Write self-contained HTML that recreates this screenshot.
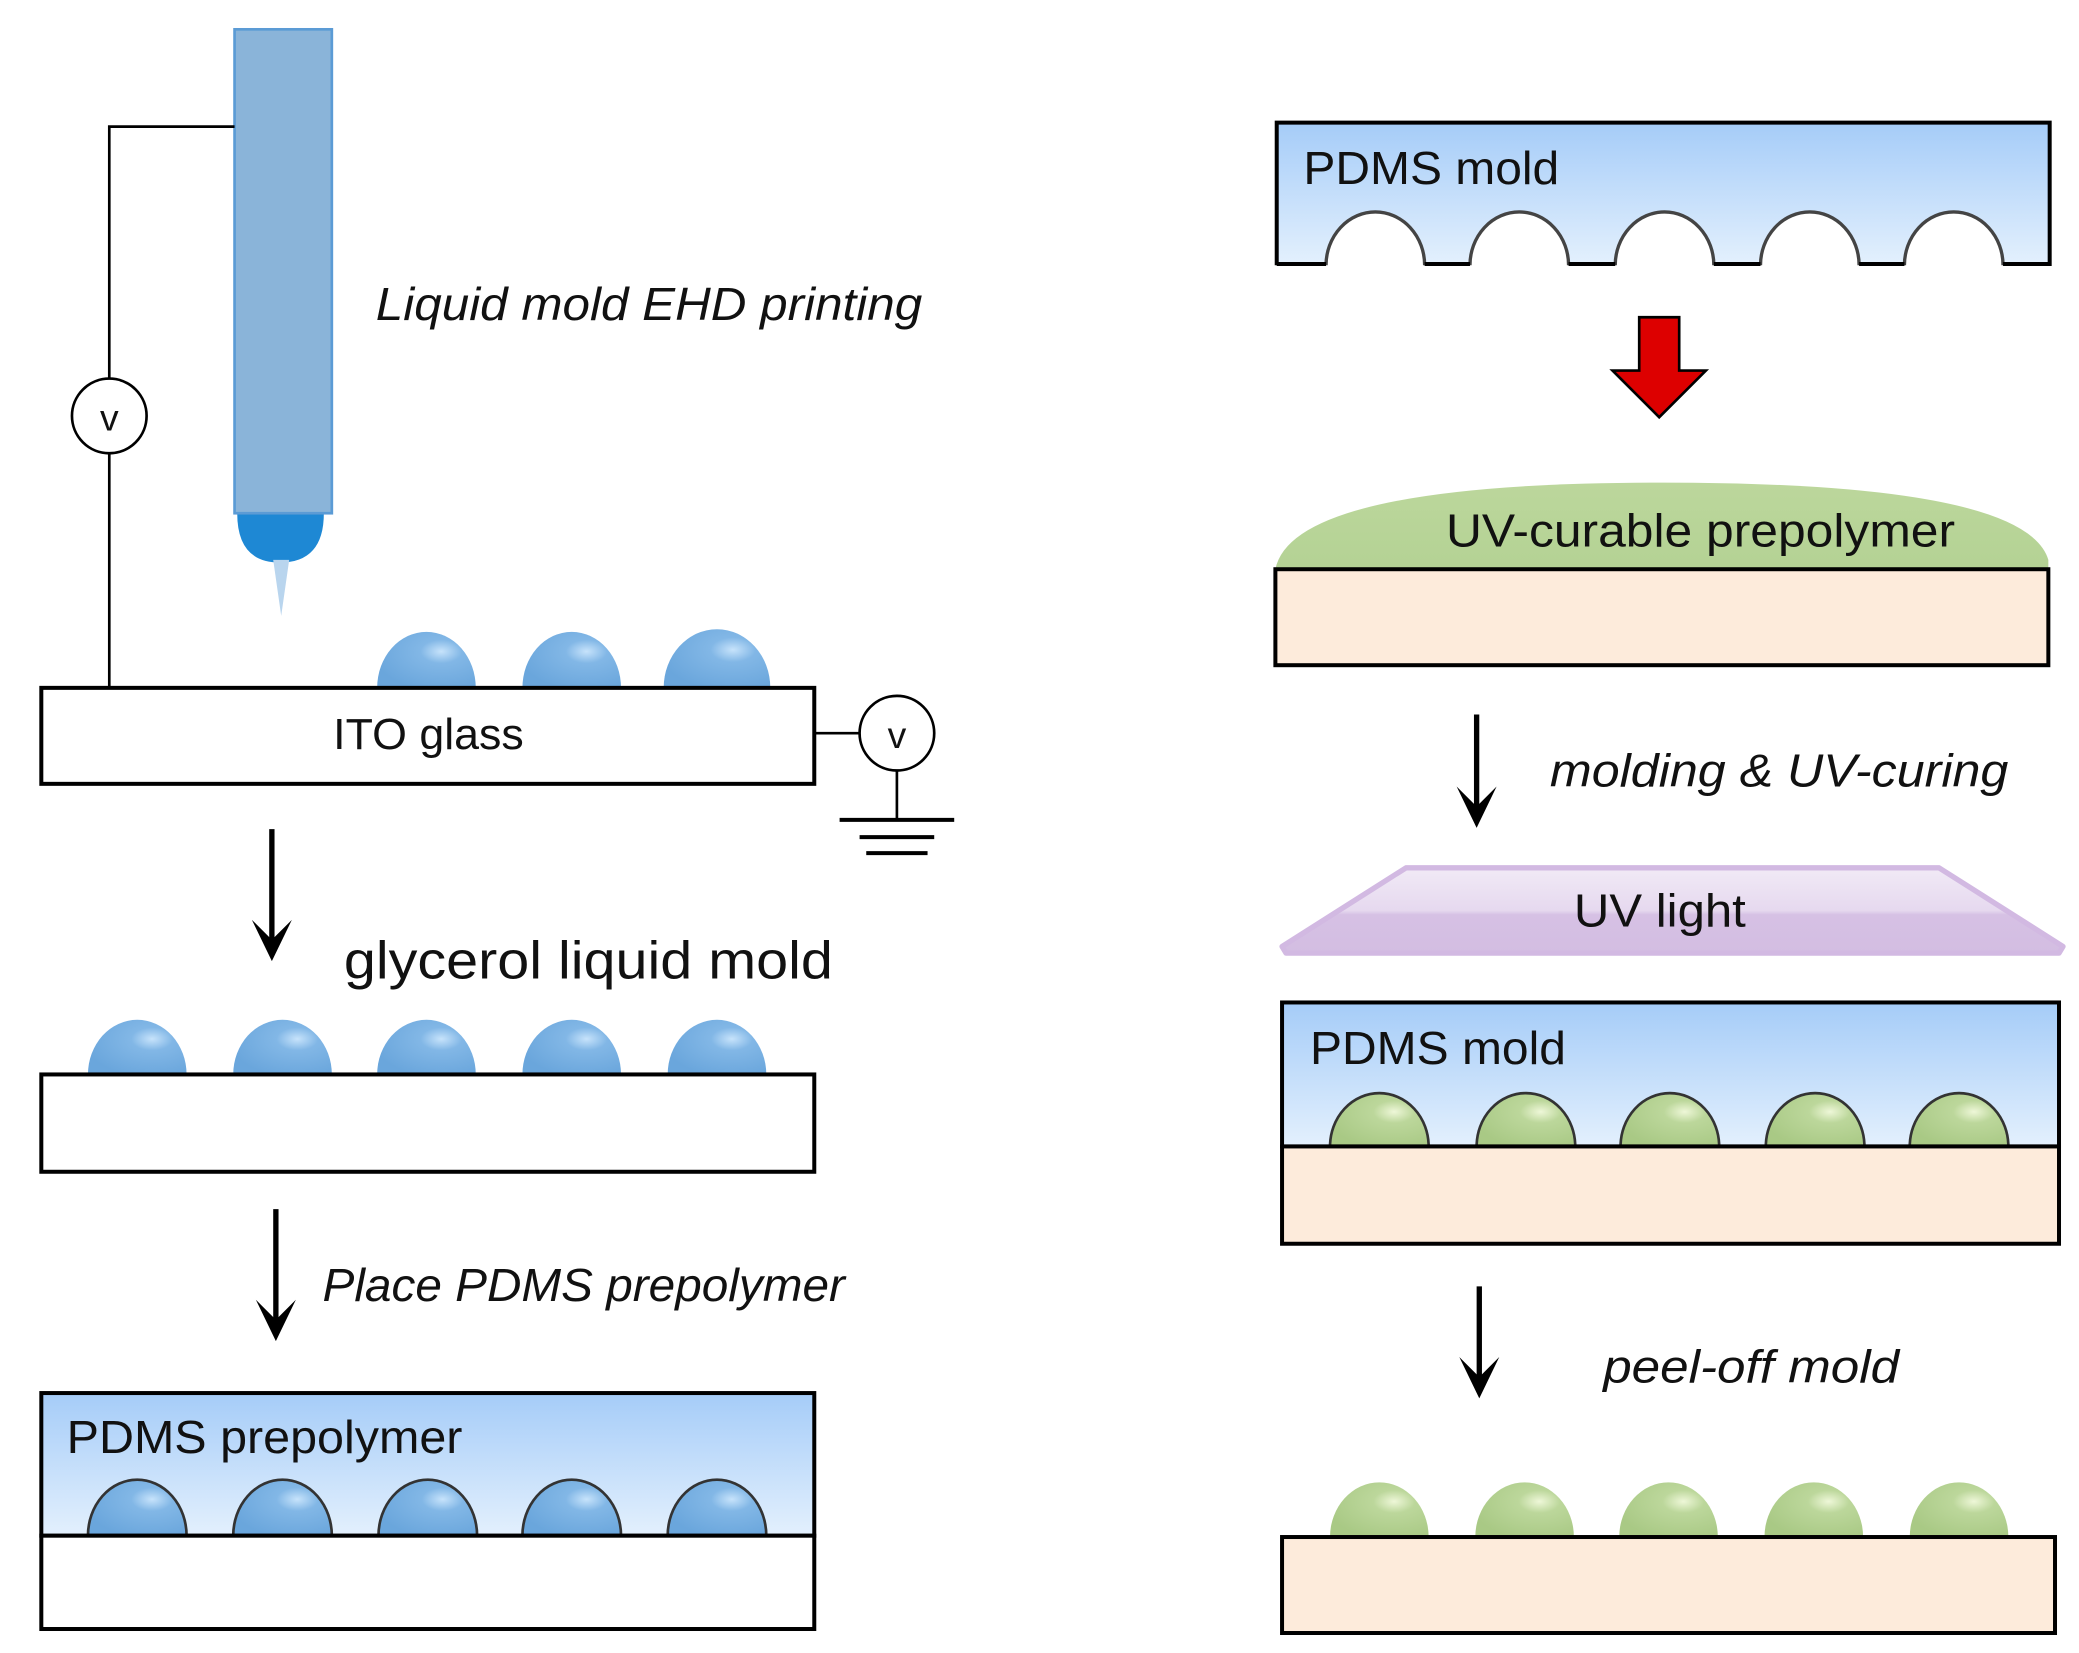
<!DOCTYPE html>
<html><head><meta charset="utf-8"><style>
html,body{margin:0;padding:0;background:#fff;}
svg{display:block;}
text{font-family:"Liberation Sans",sans-serif;fill:#111;}
</style></head><body>
<svg width="2079" height="1653" viewBox="0 0 1560 1240" preserveAspectRatio="none" xmlns="http://www.w3.org/2000/svg">
<defs>
<linearGradient id="bg" x1="0" y1="0" x2="0" y2="1"><stop offset="0" stop-color="#a5ccf8"/><stop offset="1" stop-color="#e3f0fd"/></linearGradient>
<radialGradient id="bd" cx="0.65" cy="0.35" r="0.7"><stop offset="0" stop-color="#c7e3fb"/><stop offset="0.3" stop-color="#82b7e6"/><stop offset="1" stop-color="#6aa6dc"/></radialGradient>
<radialGradient id="gd" cx="0.65" cy="0.35" r="0.7"><stop offset="0" stop-color="#eef7d8"/><stop offset="0.3" stop-color="#bcd79b"/><stop offset="1" stop-color="#a9c985"/></radialGradient>
<linearGradient id="uv" x1="0" y1="0" x2="0" y2="1"><stop offset="0" stop-color="#f1eaf6"/><stop offset="0.5" stop-color="#e6d9ef"/><stop offset="0.55" stop-color="#d6c1e4"/><stop offset="1" stop-color="#d3bde2"/></linearGradient>
<linearGradient id="cap" x1="0" y1="0" x2="0" y2="1"><stop offset="0" stop-color="#bcd79c"/><stop offset="1" stop-color="#b4d294"/></linearGradient>
</defs>

<!-- nozzle -->
<path d="M178 385 Q178 422 210 422 Q243 422 243 385 Z" fill="#1e88d4"/>
<path d="M205 420 L211 462 L217 420 Z" fill="#b9d5ee"/>
<rect x="176" y="22" width="73" height="363" fill="#8ab4d9" stroke="#5b9bd5" stroke-width="2"/>
<polyline points="176,95 82,95 82,515" fill="none" stroke="#000" stroke-width="2"/>
<circle cx="82" cy="312" r="28" fill="#fff" stroke="#000" stroke-width="2"/>
<text x="82" y="323" font-size="28" text-anchor="middle">v</text>
<text x="282" y="240" font-size="35" font-style="italic" textLength="410" lengthAdjust="spacingAndGlyphs">Liquid mold EHD printing</text>

<!-- drops on ITO -->
<g fill="url(#bd)">
<path d="M283 516 A37 42 0 0 1 357 516 Z"/>
<path d="M392 516 A37 42 0 0 1 466 516 Z"/>
<path d="M498 516 A40 44 0 0 1 578 516 Z"/>
</g>
<rect x="31" y="516" width="580" height="72" fill="#fff" stroke="#000" stroke-width="3"/>
<text x="250" y="562" font-size="33" textLength="143" lengthAdjust="spacingAndGlyphs">ITO glass</text>
<line x1="611" y1="550" x2="645" y2="550" stroke="#000" stroke-width="2"/>
<circle cx="673" cy="550" r="28" fill="#fff" stroke="#000" stroke-width="2"/>
<text x="673" y="561" font-size="28" text-anchor="middle">v</text>
<line x1="673" y1="578" x2="673" y2="615" stroke="#000" stroke-width="2"/>
<line x1="630" y1="615" x2="716" y2="615" stroke="#000" stroke-width="3"/>
<line x1="645" y1="628" x2="701" y2="628" stroke="#000" stroke-width="3"/>
<line x1="650" y1="640" x2="696" y2="640" stroke="#000" stroke-width="3"/>

<!-- arrow 1 -->
<line x1="204" y1="622" x2="204" y2="715" stroke="#000" stroke-width="4"/>
<path d="M189 690 L204 721 L219 690 L204 705 Z" fill="#000"/>
<text x="258" y="734" font-size="40" textLength="367" lengthAdjust="spacingAndGlyphs">glycerol liquid mold</text>

<g fill="url(#bd)">
<path d="M66 806 A37 41 0 0 1 140 806 Z"/>
<path d="M175 806 A37 41 0 0 1 249 806 Z"/>
<path d="M283 806 A37 41 0 0 1 357 806 Z"/>
<path d="M392 806 A37 41 0 0 1 466 806 Z"/>
<path d="M501 806 A37 41 0 0 1 575 806 Z"/>
</g>
<rect x="31" y="806" width="580" height="73" fill="#fff" stroke="#000" stroke-width="3"/>

<line x1="207" y1="907" x2="207" y2="1000" stroke="#000" stroke-width="4"/>
<path d="M192 975 L207 1006 L222 975 L207 990 Z" fill="#000"/>
<text x="242" y="976" font-size="35" font-style="italic" textLength="392" lengthAdjust="spacingAndGlyphs">Place PDMS prepolymer</text>

<rect x="31" y="1045" width="580" height="107" fill="url(#bg)"/>
<g fill="url(#bd)" stroke="#333" stroke-width="2">
<path d="M66 1152 A37 42 0 0 1 140 1152"/>
<path d="M175 1152 A37 42 0 0 1 249 1152"/>
<path d="M284 1152 A37 42 0 0 1 358 1152"/>
<path d="M392 1152 A37 42 0 0 1 466 1152"/>
<path d="M501 1152 A37 42 0 0 1 575 1152"/>
</g>
<rect x="31" y="1045" width="580" height="107" fill="none" stroke="#000" stroke-width="3"/>
<rect x="31" y="1152" width="580" height="70" fill="#fff" stroke="#000" stroke-width="3"/>
<text x="50" y="1090" font-size="35" textLength="297" lengthAdjust="spacingAndGlyphs">PDMS prepolymer</text>

<!-- right column -->
<rect x="958" y="92" width="580" height="106" fill="url(#bg)"/>
<g fill="#fff" stroke="#444" stroke-width="2.5">
<path d="M995 199 A37 40 0 0 1 1069 199"/>
<path d="M1103 199 A37 40 0 0 1 1177 199"/>
<path d="M1212 199 A37 40 0 0 1 1286 199"/>
<path d="M1321 199 A37 40 0 0 1 1395 199"/>
<path d="M1429 199 A37 40 0 0 1 1503 199"/>
</g>
<path d="M958 199 L958 92 L1538 92 L1538 198 L1503 198 M1429 198 L1395 198 M1321 198 L1286 198 M1212 198 L1177 198 M1103 198 L1069 198 M995 198 L958 198" fill="none" stroke="#000" stroke-width="3"/>
<text x="978" y="138" font-size="35" textLength="192" lengthAdjust="spacingAndGlyphs">PDMS mold</text>

<path d="M1230 238 L1260 238 L1260 278 L1280 278 L1245 313 L1210 278 L1230 278 Z" fill="#dd0000" stroke="#000" stroke-width="2"/>

<path d="M957 427 Q970 362 1247 362 Q1520 362 1537 420 L1537 427 Z" fill="url(#cap)"/>
<text x="1085" y="410" font-size="35" textLength="382" lengthAdjust="spacingAndGlyphs">UV-curable  prepolymer</text>
<rect x="957" y="427" width="580" height="72" fill="#fdebdb" stroke="#000" stroke-width="3"/>

<line x1="1108" y1="536" x2="1108" y2="615" stroke="#000" stroke-width="4"/>
<path d="M1093 590 L1108 621 L1123 590 L1108 605 Z" fill="#000"/>
<text x="1163" y="590" font-size="35" font-style="italic" textLength="344" lengthAdjust="spacingAndGlyphs">molding &amp; UV-curing</text>

<path d="M1055 651 L1455 651 L1548 710 L1545 715 L965 715 L962 710 Z" fill="url(#uv)" stroke="#d2b9e2" stroke-width="4" stroke-linejoin="round"/>
<text x="1181" y="695" font-size="35" textLength="129" lengthAdjust="spacingAndGlyphs">UV light</text>

<rect x="962" y="752" width="583" height="108" fill="url(#bg)"/>
<g fill="url(#gd)" stroke="#333" stroke-width="2">
<path d="M998 860 A37 40 0 0 1 1072 860"/>
<path d="M1108 860 A37 40 0 0 1 1182 860"/>
<path d="M1216 860 A37 40 0 0 1 1290 860"/>
<path d="M1325 860 A37 40 0 0 1 1399 860"/>
<path d="M1433 860 A37 40 0 0 1 1507 860"/>
</g>
<rect x="962" y="752" width="583" height="108" fill="none" stroke="#000" stroke-width="3"/>
<rect x="962" y="860" width="583" height="73" fill="#fdebdb" stroke="#000" stroke-width="3"/>
<text x="983" y="798" font-size="35" textLength="192" lengthAdjust="spacingAndGlyphs">PDMS mold</text>

<line x1="1110" y1="965" x2="1110" y2="1043" stroke="#000" stroke-width="4"/>
<path d="M1095 1018 L1110 1049 L1125 1018 L1110 1033 Z" fill="#000"/>
<text x="1203" y="1037" font-size="35" font-style="italic" textLength="222" lengthAdjust="spacingAndGlyphs">peel-off mold</text>

<g fill="url(#gd)">
<path d="M998 1153 A37 41 0 0 1 1072 1153 Z"/>
<path d="M1107 1153 A37 41 0 0 1 1181 1153 Z"/>
<path d="M1215 1153 A37 41 0 0 1 1289 1153 Z"/>
<path d="M1324 1153 A37 41 0 0 1 1398 1153 Z"/>
<path d="M1433 1153 A37 41 0 0 1 1507 1153 Z"/>
</g>
<rect x="962" y="1153" width="580" height="72" fill="#fdebdb" stroke="#000" stroke-width="3"/>
</svg>
</body></html>
